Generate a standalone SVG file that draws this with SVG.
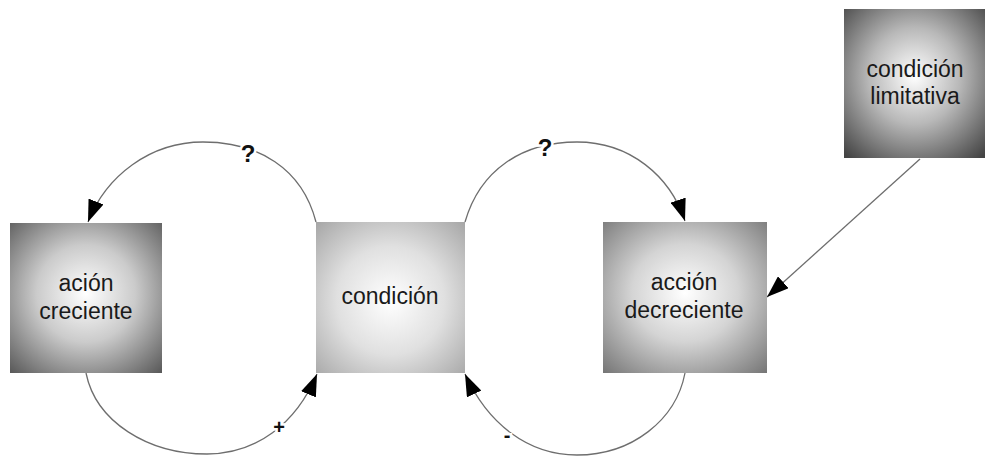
<svg xmlns="http://www.w3.org/2000/svg" width="985" height="456" viewBox="0 0 985 456">
  <defs>
    <radialGradient id="gDark" cx="50%" cy="47%" r="72%">
      <stop offset="0" stop-color="#ffffff"/>
      <stop offset="0.45" stop-color="#cbcbcb"/>
      <stop offset="1" stop-color="#5a5a5a"/>
    </radialGradient>
    <radialGradient id="gLight" cx="50%" cy="52%" r="72%">
      <stop offset="0" stop-color="#ffffff"/>
      <stop offset="0.5" stop-color="#e0e0e0"/>
      <stop offset="1" stop-color="#a6a6a6"/>
    </radialGradient>
    <radialGradient id="gMid" cx="50%" cy="47%" r="72%">
      <stop offset="0" stop-color="#ffffff"/>
      <stop offset="0.45" stop-color="#d4d4d4"/>
      <stop offset="1" stop-color="#777777"/>
    </radialGradient>
    <radialGradient id="gCorner" cx="50%" cy="45%" r="72%">
      <stop offset="0" stop-color="#ffffff"/>
      <stop offset="0.45" stop-color="#b8b8b8"/>
      <stop offset="1" stop-color="#444444"/>
    </radialGradient>
    <marker id="arrow" viewBox="0 0 22 16" refX="22" refY="8" markerWidth="22" markerHeight="16" markerUnits="userSpaceOnUse" orient="auto">
      <path d="M0,0 L22,8 L0,16 Z" fill="#000"/>
    </marker>
  </defs>
  <style>
    .label { font-family: "Liberation Sans", Arial, sans-serif; font-size: 23px; fill: #1a1a1a; text-anchor: middle; }
    .link { fill: none; stroke: #6e6e6e; stroke-width: 1.3; marker-end: url(#arrow); }
    .sign { font-family: "Liberation Sans", Arial, sans-serif; font-weight: bold; fill: #111; text-anchor: middle; paint-order: stroke; stroke: #fff; stroke-width: 5; }
  </style>

  <rect width="985" height="456" fill="#ffffff"/>

  <!-- connectors -->
  <g id="connectors">
    <path class="link" d="M316,222 C302,168 258,142 203,142 C150,142 106,176 88,222"/>
    <path class="link" d="M465,222 C480,170 522,142 577,142 C630,142 670,176 685,221"/>
    <path class="link" d="M86,373 C96,422 148,454 207,454 C256,454 296,424 317,374"/>
    <path class="link" d="M685,373 C676,420 632,455 577,455 C528,455 488,424 465,374"/>
    <path class="link" d="M920,159 L767,297"/>
    <text class="sign" x="248" y="162" font-size="24">?</text>
    <text class="sign" x="545" y="156" font-size="24">?</text>
    <text class="sign" x="279" y="434" font-size="20">+</text>
    <text class="sign" x="507" y="442" font-size="20">-</text>
  </g>

  <!-- nodes -->
  <g id="accion-creciente">
    <rect x="10" y="223" width="152" height="150" fill="url(#gDark)"/>
    <text class="label" x="86" y="291">ación</text>
    <text class="label" x="86" y="319">creciente</text>
  </g>
  <g id="condicion">
    <rect x="316" y="222" width="149" height="151" fill="url(#gLight)"/>
    <text class="label" x="390" y="304">condición</text>
  </g>
  <g id="accion-decreciente">
    <rect x="603" y="222" width="164" height="151" fill="url(#gMid)"/>
    <text class="label" x="684" y="290">acción</text>
    <text class="label" x="684" y="318">decreciente</text>
  </g>
  <g id="condicion-limitativa">
    <rect x="844" y="9" width="141" height="149" fill="url(#gCorner)"/>
    <text class="label" x="915" y="77">condición</text>
    <text class="label" x="915" y="104">limitativa</text>
  </g>
</svg>
